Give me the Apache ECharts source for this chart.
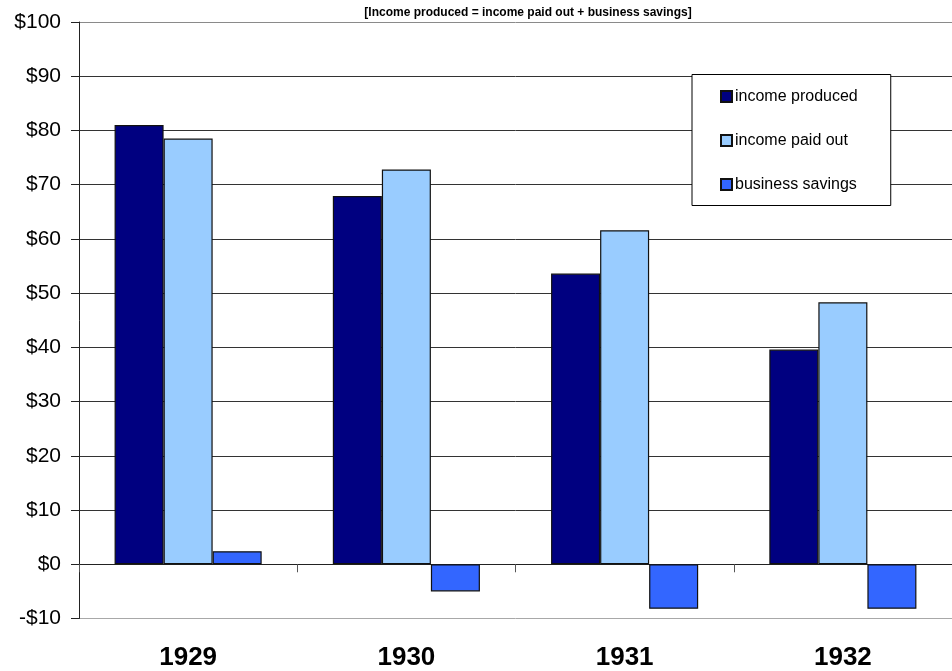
<!DOCTYPE html>
<html>
<head>
<meta charset="utf-8">
<script src="https://cdn.jsdelivr.net/npm/echarts@6/dist/echarts.min.js"></script>
<style>
  html, body { margin: 0; padding: 0; background: #fff; }
  #chart { width: 952px; height: 671px; }
</style>
</head>
<body>
<div id="chart"></div>
<script>
// National income, billions of dollars
const years = ['1929', '1930', '1931', '1932'];
const incomeProduced = [81.0, 67.9, 53.6, 39.6];
const incomePaidOut = [78.5, 72.8, 61.6, 48.3];
const businessSavings = [2.4, -5.0, -8.2, -8.2];
const titleText = '[Income produced = income paid out + business savings]';

const FONT = '"Liberation Sans", Arial, sans-serif';

// one colour per horizontal grid line, from -$10 up to $100
const gridColors = ['#a8a8a8', '#222222', '#333333', '#333333', '#333333', '#333333',
  '#333333', '#333333', '#333333', '#333333', '#333333', '#8a8a8a'];

function bar(name, data, color) {
  return {
    name: name,
    type: 'bar',
    data: data,
    xAxisIndex: 0,
    barGap: '0%',
    barCategoryGap: '32.6%',
    itemStyle: { color: color, borderColor: '#111', borderWidth: 1.2 }
  };
}

const chart = echarts.init(document.getElementById('chart'), null, { renderer: 'canvas' });
chart.setOption({
  animation: false,
  backgroundColor: '#fff',
  title: {
    text: titleText,
    left: 523,
    textAlign: 'center',
    top: 2,
    textStyle: { fontFamily: FONT, fontSize: 12, fontWeight: 'bold', color: '#000' }
  },
  legend: {
    orient: 'vertical',
    left: 692,
    top: 74.5,
    padding: [13, 33, 12, 28],
    itemGap: 26,
    itemWidth: 11,
    itemHeight: 11,
    icon: 'rect',
    backgroundColor: '#fff',
    borderColor: '#000',
    borderWidth: 1,
    textStyle: { fontFamily: FONT, fontSize: 16, color: '#000', lineHeight: 18, padding: [0, 0, 0, -2] },
    data: ['income produced', 'income paid out', 'business savings']
  },
  grid: { left: 79, right: 0, top: 22, bottom: 52.5, containLabel: false },
  xAxis: [
    {
      type: 'category',
      data: years,
      position: 'bottom',
      axisLine: { show: false, onZero: false },
      axisTick: { show: false },
      axisLabel: {
        margin: 26,
        fontFamily: FONT, fontSize: 26, fontWeight: 'bold', color: '#000'
      },
      splitLine: { show: false }
    },
    {
      type: 'category',
      data: years,
      position: 'bottom',
      axisLine: { show: true, onZero: true, lineStyle: { color: '#222', width: 1 } },
      axisTick: { show: true, length: 8, lineStyle: { color: '#555' } },
      axisLabel: { show: false },
      splitLine: { show: false }
    }
  ],
  yAxis: {
    type: 'value',
    min: -10,
    max: 100,
    interval: 10,
    axisLine: { show: true, lineStyle: { color: '#222', width: 1 } },
    axisTick: { show: true, length: 8, lineStyle: { color: '#222' } },
    axisLabel: {
      margin: 18,
      fontFamily: FONT, fontSize: 21, color: '#000',
      formatter: v => (v < 0 ? '-$' + Math.abs(v) : '$' + v)
    },
    splitLine: { show: true, lineStyle: { color: gridColors, width: 1 } }
  },
  series: [
    bar('income produced', incomeProduced, '#000080'),
    bar('income paid out', incomePaidOut, '#99CCFF'),
    bar('business savings', businessSavings, '#3366FF')
  ]
});
</script>
</body>
</html>
